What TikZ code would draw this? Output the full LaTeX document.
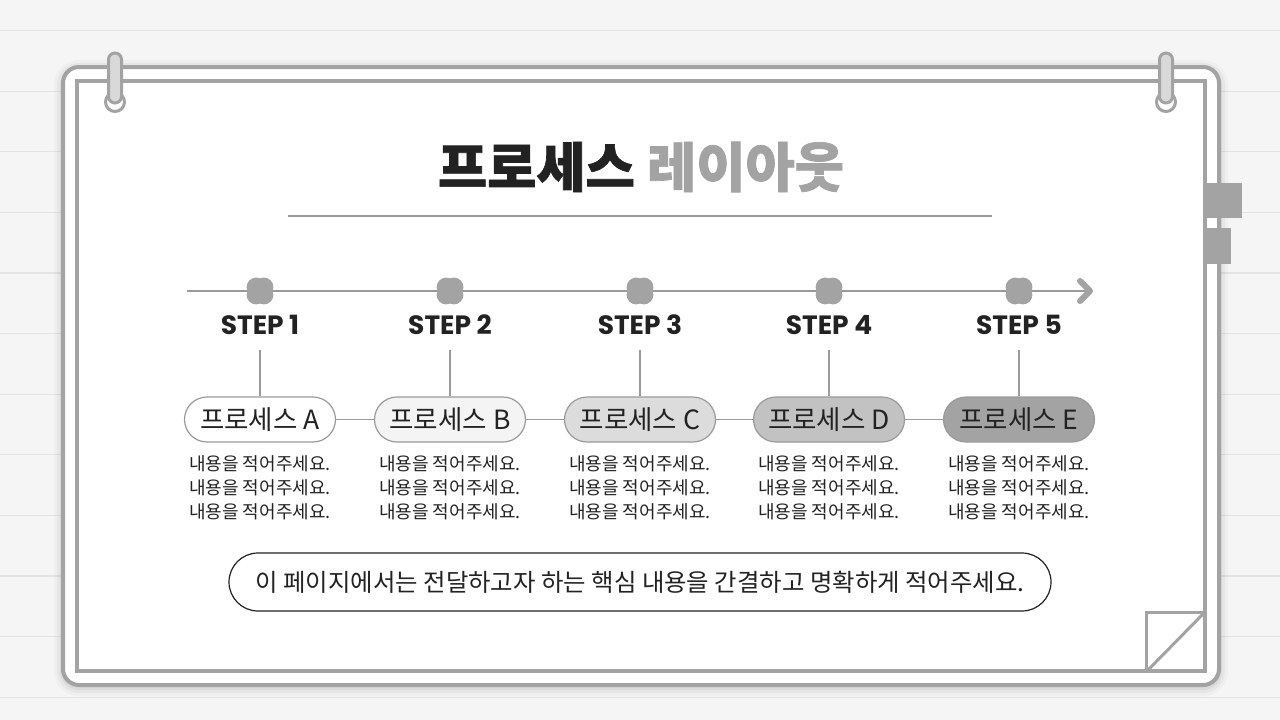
\documentclass[tikz,border=0pt]{standalone}
\usepackage{fontspec}
\newfontfamily\kr{Noto Sans CJK KR}
\newfontfamily\krheavy{Noto Sans CJK KR}[BoldFeatures={FakeBold=1.3}]
\newfontfamily\pop{Poppins}
\definecolor{bgc}{HTML}{F5F5F5}
\definecolor{bgline}{HTML}{E3E3E3}
\definecolor{fgray}{HTML}{A3A3A3}
\definecolor{ringfill}{HTML}{D9D9D9}
\definecolor{tblack}{HTML}{222222}
\definecolor{lgray}{HTML}{9A9A9A}
\definecolor{fillA}{HTML}{FFFFFF}
\definecolor{fillB}{HTML}{F4F4F4}
\definecolor{fillC}{HTML}{DCDCDC}
\definecolor{fillD}{HTML}{C2C2C2}
\definecolor{fillE}{HTML}{A3A3A3}
\tikzset{
  blob/.pic={\fill[fgray] (-3.8,-3.8) circle (9.6) (3.8,-3.8) circle (9.6) (-3.8,3.8) circle (9.6) (3.8,3.8) circle (9.6) (0,0) circle (11);},
  steplabel/.style={font=\pop\bfseries\fontsize{26.5}{30}\selectfont, text=tblack, minimum height=50, inner sep=0},
  pillbox/.style={draw=lgray, line width=1.2, rounded corners=22.5, minimum width=151, minimum height=45, inner sep=0, font=\kr\fontsize{26.5}{30}\selectfont, text=tblack},
  desc/.style={font=\kr\fontsize{18}{24}\selectfont, text=tblack, align=center, inner sep=0},
  conn/.style={draw=lgray, line width=1.1},
  ringpill/.style={draw=fgray, line width=3, fill=ringfill, rounded corners=6.5},
}
\begin{document}
\begin{tikzpicture}[x=1pt,y=-1pt]
\useasboundingbox (0,0) rectangle (1280,720);
\fill[bgc] (0,0) rectangle (1280,720);
\foreach \i in {0,...,11} \draw[bgline, line width=1.2] (0,30.5+60.6*\i) -- (1280,30.5+60.6*\i);
% shadow
\foreach \s/\o in {9/0.025,6/0.035,3/0.05} \fill[black, opacity=\o, rounded corners=16+\s] (63-\s,69-\s) rectangle (1219+\s,687+\s);
% frame
\draw[fgray, line width=4, fill=white, rounded corners=16] (63,67) rectangle (1219,685);
\draw[fgray, line width=4] (77,81) rectangle (1205,671);
% tabs
\fill[fgray] (1205,183) rectangle (1242,218);
\fill[fgray] (1205,228) rectangle (1231,264);
% rings
\foreach \x in {115,1166} {
  \draw[fgray, line width=3, fill=white] (\x,102) circle (9.5);
  \draw[ringpill] (\x-6.5,53) rectangle (\x+6.5,103);
}
% title
\node[font=\krheavy\bfseries\fontsize{53.5}{60}\selectfont, inner sep=0] (title) at (641,167) {\textcolor{tblack}{프로세스} \textcolor{fgray}{레이아웃}};
\draw[lgray, line width=1.2] (288,216) -- (992,216);
% timeline
\coordinate (tl0) at (187,291);
\coordinate (tl1) at (1090,291);
\draw[lgray, line width=1.6] (tl0) -- (tl1);
\draw[fgray, line width=6, line cap=round, line join=round] (1080,281) -- (tl1) -- (1080,301);
% steps
\foreach \n/\x/\l/\f in {1/260/A/fillA,2/450/B/fillB,3/640/C/fillC,4/829/D/fillD,5/1019/E/fillE} {
  \pic at (\x,291) {blob};
  \node[steplabel] (s\n) at (\x,325) {STEP \n};
  \node[pillbox, fill=\f] (p\n) at (\x,419.5) {프로세스 \l};
  \node[desc] (t\n) at (\x,488) {내용을 적어주세요.\\내용을 적어주세요.\\내용을 적어주세요.};
  \draw[conn] (s\n.south) -- (p\n.north);
}
\foreach \a/\b in {1/2,2/3,3/4,4/5} \draw[conn] (p\a.east) -- (p\b.west);
% bottom note
\node[draw=tblack, line width=1.2, rounded corners=29, minimum width=822, minimum height=58, inner sep=0, font=\kr\fontsize{24.4}{28}\selectfont, text=tblack] (note) at (640,582) {이 페이지에서는 전달하고자 하는 핵심 내용을 간결하고 명확하게 적어주세요.};
% folded corner
\draw[fgray, line width=3] (1146,612) rectangle (1205,671);
\draw[fgray, line width=3] (1148,670) -- (1204,613);
\end{tikzpicture}
\end{document}
